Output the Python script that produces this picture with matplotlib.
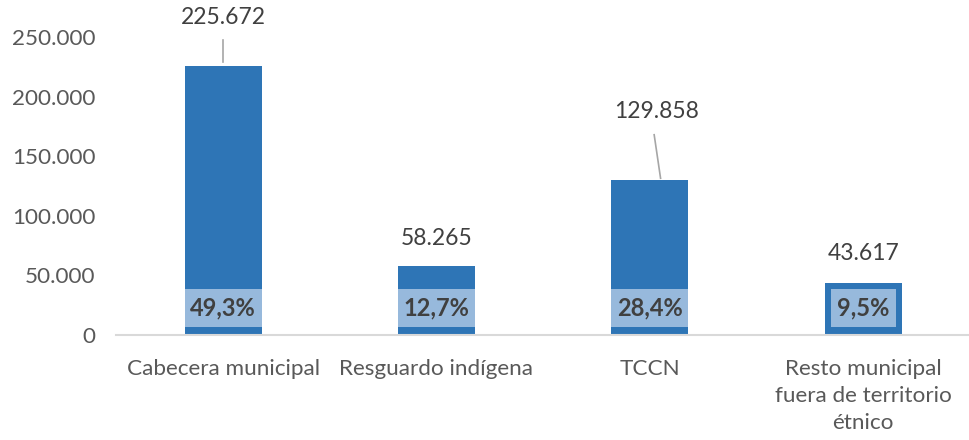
import matplotlib.pyplot as plt
from matplotlib.patches import Rectangle
from matplotlib.ticker import FuncFormatter

categorias = ['Cabecera municipal', 'Resguardo indígena', 'TCCN',
              'Resto municipal\nfuera de territorio\nétnico']
poblacion = [225672, 58265, 129858, 43617]
total = sum(poblacion)
porcentajes = [v / total * 100 for v in poblacion]

azul = '#2E75B6'
azul_claro = '#97B9DC'
gris_texto = '#404040'

plt.rcParams['font.family'] = ['Lato', 'DejaVu Sans']

fig = plt.figure(figsize=(9.7, 4.4), dpi=100)
ax = fig.add_axes([0.12, 1 - 335 / 440, 0.88, 298 / 440 * 280000 / 250000])

x = range(len(categorias))
ancho = 0.36
barras = ax.bar(x, poblacion, width=ancho, color=azul, zorder=2)

# la ultima barra lleva borde y la caja queda adentro
margen = [0, 0, 0, 0.028]
for i, b in enumerate(barras):
    x0 = b.get_x() + margen[i]
    w = b.get_width() - 2 * margen[i]
    ax.add_patch(Rectangle((x0, 6800), w, 31800, facecolor=azul_claro,
                           edgecolor='none', zorder=3))
    txt = f'{porcentajes[i]:.1f}%'.replace('.', ',')
    ax.text(i, 22700, txt, ha='center', va='center', fontsize=17,
            fontweight='bold', color=gris_texto, zorder=4)

# etiquetas de valor
pos_etiqueta = [(0, 266000), (1, 81000), (2.03, 187500), (3, 68500)]
for i, v in enumerate(poblacion):
    lx, ly = pos_etiqueta[i]
    ax.text(lx, ly, f'{v:,}'.replace(',', '.'), ha='center', va='center',
            fontsize=16.5, color=gris_texto, clip_on=False)

# lineas guia
ax.plot([0, 0], [247500, 229000], color='#A6A6A6', lw=1.2, clip_on=False)
ax.plot([2.02, 2.05], [168000, 131500], color='#A6A6A6', lw=1.2, clip_on=False)

ax.set_xlim(-0.5, 3.5)
ax.set_ylim(0, 280000)
ax.set_yticks([0, 50000, 100000, 150000, 200000, 250000])
ax.yaxis.set_major_formatter(FuncFormatter(lambda v, p: f'{int(v):,}'.replace(',', '.')))
ax.set_xticks(list(x))
ax.set_xticklabels(categorias, linespacing=1.45)
ax.tick_params(axis='both', length=0, labelsize=16.2, colors='#595959')
ax.tick_params(axis='x', pad=17)
ax.tick_params(axis='y', pad=15)

for s in ['top', 'right', 'left']:
    ax.spines[s].set_visible(False)
ax.spines['bottom'].set_color('#D9D9D9')
ax.spines['bottom'].set_linewidth(1.5)

fig.savefig('out.png', dpi=100)
